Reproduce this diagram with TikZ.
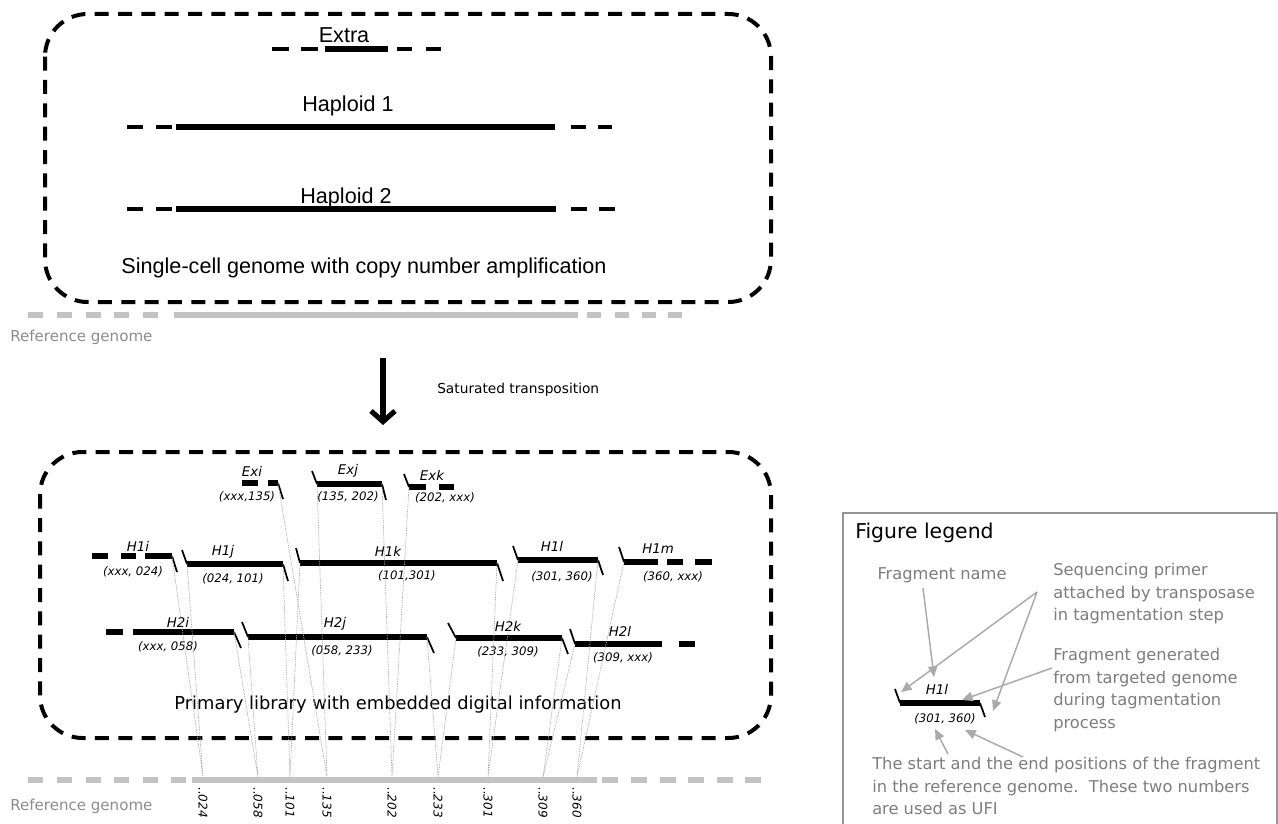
\documentclass[tikz,border=0pt]{standalone}
\usepackage{fontspec}
\setmainfont{DejaVu Sans}
\newfontfamily\arialf{Liberation Sans}
\usetikzlibrary{arrows.meta}
\definecolor{refgray}{RGB}{195,195,195}
\definecolor{reftext}{RGB}{140,140,140}
\definecolor{leggray}{RGB}{125,125,125}
\definecolor{legarrow}{RGB}{170,170,170}
\definecolor{guidegray}{RGB}{170,170,170}
\definecolor{framegray}{RGB}{150,150,150}
\begin{document}
\begin{tikzpicture}[x=0.75pt,y=-0.75pt,
  boxline/.style={line width=3pt, dash pattern=on 10.5pt off 7pt, rounded corners=32pt},
  genome/.style={line width=4.8pt},
  gdash/.style={line width=3pt},
  refl/.style={line width=3.8pt, refgray},
  frag/.style={line width=4pt},
  primer/.style={line width=1.3pt},
  guide/.style={guidegray, line width=0.5pt, dash pattern=on 1pt off 0.8pt},
  flab/.style={font=\itshape\fontsize{10}{11}\selectfont, inner sep=0pt},
  fpos/.style={font=\itshape\fontsize{8.8}{10}\selectfont, inner sep=0pt},
  tlab/.style={font=\itshape\fontsize{9}{10}\selectfont, inner sep=0pt, rotate=-90, anchor=west},
  toptext/.style={font=\arialf\fontsize{16.2}{19}\selectfont, inner sep=0pt},
  reflab/.style={font=\fontsize{11.3}{13}\selectfont, text=reftext, inner sep=0pt, anchor=west},
  legtext/.style={font=\fontsize{12.2}{17}\selectfont, text=leggray, inner sep=0pt, align=left},
  larrow/.style={legarrow, line width=1.1pt, -{Triangle[length=8pt,width=7pt]}},
  bigarrow/.style={line width=3.8pt, -{Straight Barb[length=8pt,width=18pt]}}
]
\useasboundingbox (0,0) rectangle (1278,824);

%% ---------------- top box ----------------
\draw[boxline] (45,14) rectangle (771,302);
\node[toptext] (extra) at (344,35) {Extra};
\draw[gdash] (272,49) -- (289,49) (301,49) -- (318,49) (397,49) -- (412,49) (426,49) -- (441,49);
\draw[genome] (325,49) -- (388,49);
\node[toptext] (hap1) at (348,106) {Haploid 1};
\draw[gdash] (127,127) -- (143,127) (156,127) -- (172,127) (571,127) -- (586,127) (598,127) -- (612,127);
\draw[genome] (176,127) -- (555,127);
\node[toptext] (hap2) at (346,198) {Haploid 2};
\draw[gdash] (127,209) -- (143,209) (156,209) -- (172,209) (571,209) -- (587,209) (599,209) -- (615,209);
\draw[genome] (176,209) -- (556,209);
\node[toptext] (cap1) at (364,268) {Single-cell genome with copy number amplification};

%% ---------------- reference genome (top) ----------------
\foreach \a in {28,57,86,114,143} \draw[refl] (\a,315) -- ++(15,0);
\draw[refl] (174,315) -- (578,315);
\foreach \a in {587,615,642,668} \draw[refl] (\a,315) -- ++(14,0);
\node[reflab] (ref1) at (10,337) {Reference genome};

%% ---------------- arrow ----------------
\coordinate (arrS) at (383,358);
\coordinate (arrE) at (383,425);
\draw[bigarrow] (arrS) -- (arrE);
\node[font=\fontsize{10.3}{12}\selectfont, anchor=west, inner sep=0pt] (sat) at (437,390) {Saturated transposition};

%% ---------------- bottom box ----------------
\draw[boxline] (40,452) rectangle (771,738);
\node[font=\fontsize{13.4}{15}\selectfont, inner sep=0pt] (cap2) at (398,705) {Primary library with embedded digital information};

% Ex row
\draw[frag] (242,483) -- (258,483);
\draw[frag] (268,483) -- (278,483) coordinate (exi-e);
\draw[primer] (exi-e) -- ++(5,16);
\node[flab] (exi) at (252,471) {Exi};
\node[fpos] (exi-p) at (247,497) {(xxx,135)};

\coordinate (exj-s) at (317,484); \coordinate (exj-e) at (382,484);
\draw[primer] (exj-s) -- ++(-5,-13);
\draw[frag] (exj-s) -- (exj-e);
\draw[primer] (exj-e) -- ++(4,16);
\node[flab] (exj) at (348,471) {Exj};
\node[fpos] (exj-p) at (348,497) {(135, 202)};

\coordinate (exk-s) at (409,487);
\draw[primer] (exk-s) -- ++(-5,-13);
\draw[frag] (409,487) -- (426,487) (439,487) -- (454,487);
\node[flab] (exk) at (432,475) {Exk};
\node[fpos] (exk-p) at (445,498) {(202, xxx)};

% H1 row
\draw[frag] (92,556) -- (108,556) (121,556) -- (136,556);
\coordinate (h1i-e) at (172,556);
\draw[frag] (145,556) -- (h1i-e);
\draw[primer] (h1i-e) -- ++(5,16);
\node[flab] (h1i) at (138,546) {H1i};
\node[fpos] (h1i-p) at (133,572) {(xxx, 024)};

\coordinate (h1j-s) at (187,564); \coordinate (h1j-e) at (283,564);
\draw[primer] (h1j-s) -- ++(-5,-14);
\draw[frag] (h1j-s) -- (h1j-e);
\draw[primer] (h1j-e) -- ++(5,17);
\node[flab] (h1j) at (223,552) {H1j};
\node[fpos] (h1j-p) at (233,579) {(024, 101)};

\coordinate (h1k-s) at (300,563); \coordinate (h1k-e) at (497,563);
\draw[primer] (h1k-s) -- ++(-4,-15);
\draw[frag] (h1k-s) -- (h1k-e);
\draw[primer] (h1k-e) -- ++(6,18);
\node[flab] (h1k) at (388,551) {H1k};
\node[fpos] (h1k-p) at (407,576) {(101,301)};

\coordinate (h1l-s) at (518,560); \coordinate (h1l-e) at (598,560);
\draw[primer] (h1l-s) -- ++(-5,-14);
\draw[frag] (h1l-s) -- (h1l-e);
\draw[primer] (h1l-e) -- ++(5,15);
\node[flab] (h1l) at (552,546) {H1l};
\node[fpos] (h1l-p) at (562,577) {(301, 360)};

\coordinate (h1m-s) at (624,562);
\draw[primer] (h1m-s) -- ++(-5,-15);
\draw[frag] (h1m-s) -- (658,562) (667,562) -- (683,562) (695,562) -- (712,562);
\node[flab] (h1m) at (658,549) {H1m};
\node[fpos] (h1m-p) at (673,577) {(360, xxx)};

% H2 row
\draw[frag] (106,632) -- (123,632);
\coordinate (h2i-e) at (234,632);
\draw[frag] (133,632) -- (h2i-e);
\draw[primer] (h2i-e) -- ++(7,16);
\node[flab] (h2i) at (178,622) {H2i};
\node[fpos] (h2i-p) at (168,647) {(xxx, 058)};

\coordinate (h2j-s) at (248,637); \coordinate (h2j-e) at (427,637);
\draw[primer] (h2j-s) -- ++(-6,-15);
\draw[frag] (h2j-s) -- (h2j-e);
\draw[primer] (h2j-e) -- ++(7,16);
\node[flab] (h2j) at (335,624) {H2j};
\node[fpos] (h2j-p) at (342,651) {(058, 233)};

\coordinate (h2k-s) at (456,638); \coordinate (h2k-e) at (562,638);
\draw[primer] (h2k-s) -- ++(-8,-15);
\draw[frag] (h2k-s) -- (h2k-e);
\draw[primer] (h2k-e) -- ++(6,16);
\node[flab] (h2k) at (508,626) {H2k};
\node[fpos] (h2k-p) at (508,652) {(233, 309)};

\coordinate (h2l-s) at (575,644);
\draw[primer] (h2l-s) -- ++(-5,-15);
\draw[frag] (h2l-s) -- (662,644) (679,644) -- (695,644);
\node[flab] (h2l) at (620,631) {H2l};
\node[fpos] (h2l-p) at (623,658) {(309, xxx)};

%% ---------------- reference genome (bottom) ----------------
\foreach \a in {28,57,86,114,143,171} \draw[refl] (\a,780) -- ++(15,0);
\draw[refl] (192,780) -- (597,780);
\foreach \a in {602,631,660,688,717,745} \draw[refl] (\a,780) -- ++(16,0);
\node[reflab] (ref2) at (10,806) {Reference genome};

\foreach \n/\x in {024/203,058/258,101/290,135/327,202/392,233/438,301/488,309/543,360/577}{
  \coordinate (p\n) at (\x,777);
  \node[tlab] (t\n) at (\x,787) {..\n};
}

% guides
\draw[guide] (h1i-e) -- (p024) (h1j-s) -- (p024);
\draw[guide] (h2i-e) -- (p058) (h2j-s) -- (p058);
\draw[guide] (h1j-e) -- (p101) (h1k-s) -- (p101);
\draw[guide] (exi-e) -- (p135) (exj-s) -- (p135);
\draw[guide] (exj-e) -- (p202) (exk-s) -- (p202);
\draw[guide] (h2j-e) -- (p233) (h2k-s) -- (p233);
\draw[guide] (h1k-e) -- (p301) (h1l-s) -- (p301);
\draw[guide] (h2k-e) -- (p309) (h2l-s) -- (p309);
\draw[guide] (h1l-e) -- (p360) (h1m-s) -- (p360);

%% ---------------- legend ----------------
\draw[framegray, line width=1.2pt] (843,513) rectangle (1277,830);
\node[font=\fontsize{15.3}{17}\selectfont, anchor=west, inner sep=0pt] (legtitle) at (855,533) {Figure legend};
\node[legtext, anchor=center] (fname) at (942,575) {Fragment name};
\node[legtext, anchor=north west] (seqp) at (1053,563) {Sequencing primer\\attached by transposase\\in tagmentation step};
\node[legtext, anchor=north west] (fgen) at (1053,648) {Fragment generated\\from targeted genome\\during tagmentation\\process};
\node[legtext, anchor=north west] (ufi) at (872,757) {The start and the end positions of the fragment\\in the reference genome.\ \ These two numbers\\are used as UFI};

\coordinate (lf-s) at (900,703); \coordinate (lf-e) at (980,703);
\draw[primer] (lf-s) -- ++(-5,-14);
\draw[frag] (lf-s) -- (lf-e);
\draw[primer] (lf-e) -- ++(5,14);
\node[flab] (lf) at (937,689) {H1l};
\node[fpos] (lf-p) at (945,719) {(301, 360)};

\coordinate (a1s) at (923,588); \coordinate (a1e) at (934,677);
\coordinate (a2s) at (1037,592); \coordinate (a2e) at (901,692); \coordinate (a3e) at (993,711);
\coordinate (a4s) at (1052,668); \coordinate (a4e) at (962,700);
\coordinate (a5s) at (948,754); \coordinate (a5e) at (935,729);
\coordinate (a6s) at (1023,757); \coordinate (a6e) at (965,730);
\draw[larrow] (a1s) -- (a1e);
\draw[larrow] (a2s) -- (a2e);
\draw[larrow] (a2s) -- (a3e);
\draw[larrow] (a4s) -- (a4e);
\draw[larrow] (a5s) -- (a5e);
\draw[larrow] (a6s) -- (a6e);
\end{tikzpicture}
\end{document}
